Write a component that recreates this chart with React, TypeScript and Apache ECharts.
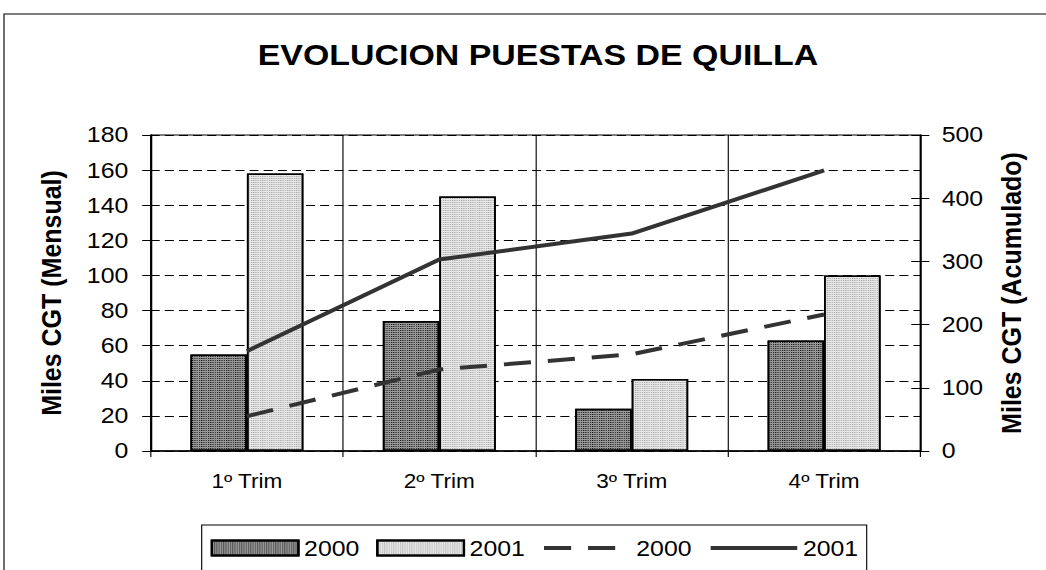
import React, { useEffect, useRef } from "react";
import * as echarts from "echarts";

// ---- data ----
const categories = ["1º Trim", "2º Trim", "3º Trim", "4º Trim"];
const mensual2000 = [55, 74, 24, 63];
const mensual2001 = [158, 145, 41, 100];
const acumulado2000 = [55, 129, 153, 216];
const acumulado2001 = [158, 303, 344, 444];
const leftTicks = { min: 0, max: 180, interval: 20 };
const rightTicks = { min: 0, max: 500, interval: 100 };
const titleText = "EVOLUCION PUESTAS DE QUILLA";
const leftName = "Miles CGT (Mensual)";
const rightName = "Miles CGT (Acumulado)";

// The reference is horizontally stretched; draw narrower and stretch with CSS.
const S = 1.13;
const W = 1046 / S;
const X = (v: number) => v / S;
const FONT = '"Liberation Sans", Arial, sans-serif';
const DASH = [24, 15];

export default function App() {
  const ref = useRef<HTMLDivElement>(null);
  useEffect(() => {
    if (!ref.current) return;
    const chart = echarts.init(ref.current, null, { renderer: "svg" });
    const option: any = {
      animation: false,
      backgroundColor: "#fff",
      textStyle: { fontFamily: FONT },
      grid: {
        left: X(150.7),
        top: 135,
        width: X(769.6),
        height: 316,
        show: true,
        borderColor: "#000",
        borderWidth: 1,
        containLabel: false,
      },
      legend: {
        left: X(210.7),
        top: 537,
        padding: 0,
        itemWidth: X(86.6),
        itemHeight: 15,
        itemGap: 14.9,
        textStyle: { fontSize: 22, color: "#000", fontFamily: FONT },
        formatter: (name: string) => name.replace(" acum", ""),
        data: [
          { name: "2000", icon: "rect" },
          { name: "2001", icon: "rect" },
          {
            name: "2000 acum",
            itemStyle: { opacity: 0, borderWidth: 0 },
            lineStyle: { width: 4, color: "#333", type: DASH },
          },
          {
            name: "2001 acum",
            itemStyle: { opacity: 0, borderWidth: 0 },
            lineStyle: { width: 4, color: "#333", type: "solid" },
          },
        ],
      },
      xAxis: {
        type: "category",
        data: categories,
        boundaryGap: true,
        axisLine: { show: true, lineStyle: { color: "#000", width: 1.5 } },
        axisTick: { show: true, length: 6, lineStyle: { color: "#000", width: 1 } },
        axisLabel: { fontSize: 20, color: "#000", margin: 20, fontFamily: FONT },
        splitLine: { show: true, lineStyle: { color: "#000", width: 1, type: "solid" } },
      },
      yAxis: [
        {
          type: "value",
          position: "left",
          ...leftTicks,
          axisLine: { show: true, lineStyle: { color: "#000", width: 1.5 } },
          axisTick: { show: true, length: X(8.5), lineStyle: { color: "#000", width: 1 } },
          axisLabel: { fontSize: 22, color: "#000", margin: X(22.4), fontFamily: FONT },
          splitLine: { show: true, lineStyle: { color: "#000", width: 1, type: [8, 4.5] } },
        },
        {
          type: "value",
          position: "right",
          ...rightTicks,
          axisLine: { show: true, lineStyle: { color: "#000", width: 1.5 } },
          axisTick: { show: true, length: 8, lineStyle: { color: "#000", width: 1 } },
          axisLabel: { fontSize: 22, color: "#000", margin: X(21.4), fontFamily: FONT },
          splitLine: { show: false },
        },
        {
          type: "value",
          position: "right",
          ...rightTicks,
          axisLine: { show: false },
          axisTick: { show: true, inside: true, length: 8, lineStyle: { color: "#000", width: 1 } },
          axisLabel: { show: false },
          splitLine: { show: false },
        },
      ],
      series: [
        {
          name: "2000",
          type: "bar",
          yAxisIndex: 0,
          data: mensual2000,
          barWidth: X(56.5),
          barGap: "0%",
          itemStyle: {
            color: "#9a9a9a",
            borderColor: "#000",
            borderWidth: 1.5,
            decal: {
              symbol: "rect",
              symbolSize: 1,
              color: "#1a1a1a",
              dashArrayX: [1, 1],
              dashArrayY: [1, 1],
              rotation: 0,
            },
          },
        },
        {
          name: "2001",
          type: "bar",
          yAxisIndex: 0,
          data: mensual2001,
          barWidth: X(56.5),
          barGap: "0%",
          itemStyle: {
            color: "#e6e6e6",
            borderColor: "#000",
            borderWidth: 1.5,
            decal: {
              symbol: "rect",
              symbolSize: 1,
              color: "#a8a8a8",
              dashArrayX: [1, 1],
              dashArrayY: [1, 1],
              rotation: 0,
            },
          },
        },
        {
          name: "2000 acum",
          type: "line",
          yAxisIndex: 1,
          data: acumulado2000,
          symbol: "none",
          showSymbol: false,
          lineStyle: { color: "#333", width: 4, type: DASH },
          itemStyle: { color: "#333" },
          z: 5,
        },
        {
          name: "2001 acum",
          type: "line",
          yAxisIndex: 1,
          data: acumulado2001,
          symbol: "none",
          showSymbol: false,
          lineStyle: { color: "#333", width: 4, type: "solid" },
          itemStyle: { color: "#333" },
          z: 5,
        },
      ],
      graphic: [
        {
          type: "rect",
          shape: { x: X(4), y: 14, width: 3000, height: 3000 },
          style: { fill: "none", stroke: "#000", lineWidth: 1 },
          silent: true,
          z: -10,
        },
        {
          type: "rect",
          shape: { x: X(201.7), y: 525, width: X(665), height: 200 },
          style: { fill: "none", stroke: "#000", lineWidth: 1 },
          silent: true,
        },
        {
          type: "text",
          x: X(538),
          y: 55,
          style: {
            text: titleText,
            fontSize: 30,
            fontWeight: "bold",
            fontFamily: FONT,
            fill: "#000",
            align: "center",
            verticalAlign: "middle",
            textAlign: "center",
            textVerticalAlign: "middle",
          },
        },
        {
          type: "text",
          x: X(51),
          y: 293,
          rotation: Math.PI / 2,
          style: {
            text: leftName,
            fontSize: 25,
            fontWeight: "bold",
            fontFamily: FONT,
            fill: "#000",
            align: "center",
            verticalAlign: "middle",
            textAlign: "center",
            textVerticalAlign: "middle",
          },
        },
        {
          type: "text",
          x: X(1011.7),
          y: 293,
          rotation: Math.PI / 2,
          style: {
            text: rightName,
            fontSize: 25,
            fontWeight: "bold",
            fontFamily: FONT,
            fill: "#000",
            align: "center",
            verticalAlign: "middle",
            textAlign: "center",
            textVerticalAlign: "middle",
          },
        },
      ],
    };
    chart.setOption(option);
    return () => chart.dispose();
  }, []);
  return (
    <div
      ref={ref}
      style={{
        position: "fixed",
        left: 0,
        top: 0,
        width: W,
        height: 570,
        transform: `scaleX(${S})`,
        transformOrigin: "0 0",
      }}
    />
  );
}
